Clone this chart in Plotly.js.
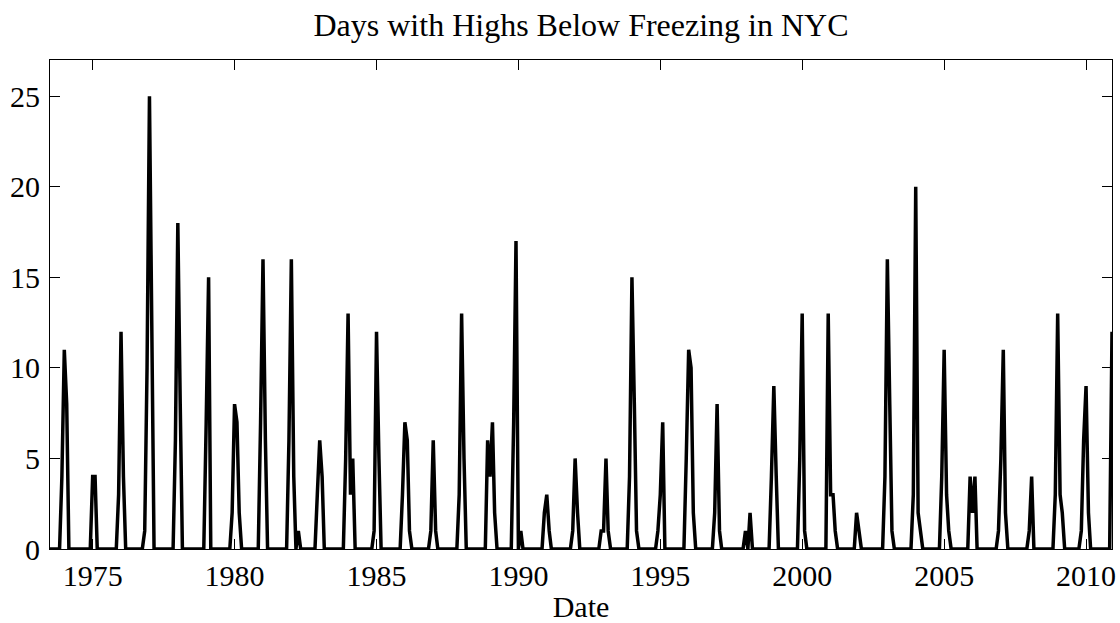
<!DOCTYPE html>
<html><head><meta charset="utf-8">
<script src="https://cdn.plot.ly/plotly-3.0.1.min.js"></script>
<style>html,body{margin:0;padding:0;background:#fff}#chart{width:1120px;height:623px}</style>
</head><body><div id="chart"></div>
<script>
// Monthly counts of days with highs below freezing, first value = July 1973
const firstYear = 1973;
const firstMonth = 7;
const days1970s = [
  0,0,0,0,0,4,                 // 1973 Jul-Dec
  11,8,0,0,0,0,0,0,0,0,0,0,    // 1974
  4,4,0,0,0,0,0,0,0,0,0,3,     // 1975
  12,4,0,0,0,0,0,0,0,0,1,10,   // 1976
  25,10,0,0,0,0,0,0,0,0,0,6,   // 1977
  18,8,0,0,0,0,0,0,0,0,0,0,    // 1978
  7,15,0,0,0,0,0,0,0,0,0,2     // 1979
];
const days1980s = [
  8,7,2,0,0,0,0,0,0,0,0,7,     // 1980
  16,6,0,0,0,0,0,0,0,0,0,6,    // 1981
  16,4,0,1,0,0,0,0,0,0,0,3,    // 1982
  6,4,0,0,0,0,0,0,0,0,0,5,     // 1983
  13,3,5,0,0,0,0,0,0,0,0,1,    // 1984
  12,5,0,0,0,0,0,0,0,0,0,3,    // 1985
  7,6,1,0,0,0,0,0,0,0,0,1,     // 1986
  6,1,0,0,0,0,0,0,0,0,0,3,     // 1987
  13,5,0,0,0,0,0,0,0,0,0,6,    // 1988
  4,7,2,0,0,0,0,0,0,0,7,17     // 1989
];
const days1990s = [
  0,1,0,0,0,0,0,0,0,0,0,2,     // 1990
  3,1,0,0,0,0,0,0,0,0,0,1,     // 1991
  5,2,0,0,0,0,0,0,0,0,0,1,     // 1992
  1,5,1,0,0,0,0,0,0,0,0,4,     // 1993
  15,8,1,0,0,0,0,0,0,0,0,1,    // 1994
  3,7,0,0,0,0,0,0,0,0,0,5,     // 1995
  11,10,2,0,0,0,0,0,0,0,0,2,   // 1996
  8,1,0,0,0,0,0,0,0,0,0,0,     // 1997
  1,0,2,0,0,0,0,0,0,0,0,4,     // 1998
  9,4,0,0,0,0,0,0,0,0,0,5      // 1999
];
const days2000s = [
  13,1,0,0,0,0,0,0,0,0,0,13,   // 2000
  3,3,1,0,0,0,0,0,0,0,0,2,     // 2001
  1,0,0,0,0,0,0,0,0,0,0,4,     // 2002
  16,8,1,0,0,0,0,0,0,0,0,3,    // 2003
  20,2,1,0,0,0,0,0,0,0,0,4,    // 2004
  11,3,1,0,0,0,0,0,0,0,0,4,    // 2005
  2,4,0,0,0,0,0,0,0,0,0,1,     // 2006
  5,11,2,0,0,0,0,0,0,0,0,0,    // 2007
  1,4,0,0,0,0,0,0,0,0,0,3,     // 2008
  13,3,2,0,0,0,0,0,0,0,1,6     // 2009
];
const days2010 = [
  9,2,0,0,0,0,0,0,0,0,0,12     // 2010
];
const tickYears = [1975,1980,1985,1990,1995,2000,2005,2010];
const yTicks = [0,5,10,15,20,25];

const values = days1970s.concat(days1980s, days1990s, days2000s, days2010);
const pad = n => (n < 10 ? '0' : '') + n;
const dates = values.map((v, i) => {
  const m = (firstMonth - 1) + i;
  return (firstYear + Math.floor(m / 12)) + '-' + pad(m % 12 + 1) + '-01';
});

const font = "'Times New Roman', 'Liberation Serif', Times, serif";
const trace = {
  x: dates, y: values, type: 'scatter', mode: 'lines',
  line: {color: 'black', width: 3.5}, hoverinfo: 'x+y'
};
const axisCommon = {
  ticks: 'inside', ticklen: 10, tickwidth: 1, tickcolor: 'black',
  showline: true, linecolor: 'black', linewidth: 1, mirror: 'ticks',
  showgrid: false, zeroline: false,
  tickfont: {family: font, size: 30, color: 'black'}
};
const layout = {
  width: 1120, height: 623,
  margin: {l: 50, r: 8, t: 60, b: 74},
  paper_bgcolor: 'white', plot_bgcolor: 'white',
  font: {family: font, size: 30, color: 'black'},
  showlegend: false,
  title: {text: 'Days with Highs Below Freezing in NYC', font: {family: font, size: 32, color: 'black'},
          x: 0.5, xref: 'paper', xanchor: 'center', y: 0.96, yref: 'container', yanchor: 'middle'},
  xaxis: Object.assign({}, axisCommon, {
    type: 'date', range: [dates[0], dates[dates.length - 1]],
    tickvals: tickYears.map(y => y + '-01-01'), ticktext: tickYears.map(String),
    title: {text: 'Date', font: {family: font, size: 30, color: 'black'}, standoff: 9}
  }),
  yaxis: Object.assign({}, axisCommon, {
    range: [0, 27], tickvals: yTicks, ticktext: yTicks.map(String),
    ticklabelstandoff: 3
  })
};
Plotly.newPlot('chart', [trace], layout, {displayModeBar: false, staticPlot: true});
</script></body></html>
